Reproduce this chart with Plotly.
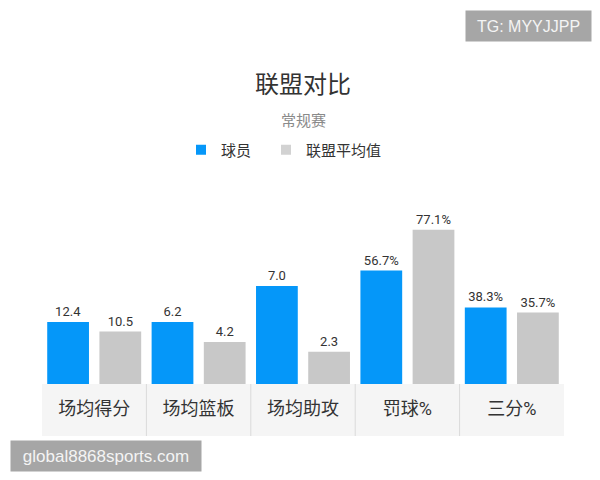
import plotly.graph_objects as go

# ---- data ----
categories = ["场均得分", "场均篮板", "场均助攻", "罚球%", "三分%"]
player = [12.4, 6.2, 7.0, 56.7, 38.3]
league = [10.5, 4.2, 2.3, 77.1, 35.7]
suffix = ["", "", "", "%", "%"]
# per-category display scale used by the original chart (bars are scaled per category)
display_scale = [5, 10, 14, 2, 2]
series_names = ["球员", "联盟平均值"]

BLUE = "#0597F9"
GRAY = "#C8C8C8"
TXT = "#333333"
CJK = "Roboto, Noto Sans CJK SC, sans-serif"

W, H = 600, 480
ML, MR, MT, MB = 42, 36, 220, 96
PH = H - MT - MB  # plot height in px
PW = W - ML - MR


def py(px_from_top):
    """convert a pixel y (from top of page) to paper coordinate"""
    return (H - MB - px_from_top) / PH


def px(px_from_left):
    return (px_from_left - ML) / PW


def labels(vals):
    return [f"{v:.1f}{s}" for v, s in zip(vals, suffix)]


fig = go.Figure()
for name, vals, color in [(series_names[0], player, BLUE), (series_names[1], league, GRAY)]:
    fig.add_trace(go.Bar(
        x=categories,
        y=[v * k for v, k in zip(vals, display_scale)],
        text=labels(vals),
        textposition="outside",
        outsidetextfont=dict(size=13, color=TXT, family=CJK),
        marker=dict(color=color, line=dict(width=0)),
        cliponaxis=False,
        showlegend=False,
        hoverinfo="skip",
        name=name,
    ))

# legend entries (square markers)
for i, (name, color) in enumerate([(series_names[0], BLUE), (series_names[1], "#D2D2D2")]):
    fig.add_trace(go.Scatter(
        x=[None], y=[None], mode="markers", name=name,
        marker=dict(symbol="square", size=10, color=color),
        legendwidth=40 if i == 0 else None,
    ))

shapes = [
    dict(type="rect", xref="paper", yref="paper", x0=0, x1=1, y0=py(436), y1=0,
         fillcolor="#F5F5F5", line=dict(width=0), layer="below"),
]
n = len(categories)
for k in range(1, n):
    shapes.append(dict(type="line", xref="paper", yref="paper", x0=k / n, x1=k / n,
                       y0=py(436), y1=0, line=dict(color="#DADADA", width=1)))

annotations = [
    dict(text="常规赛", xref="paper", yref="paper", x=0.5, y=py(121), xanchor="center",
         yanchor="middle", showarrow=False, font=dict(size=15, color="#8A8A8A", family=CJK)),
    dict(text="TG: MYYJJPP", xref="paper", yref="paper", x=px(465), y=py(10),
         xanchor="left", yanchor="top", width=125, height=30, borderpad=0,
         bgcolor="#A6A6A6", showarrow=False,
         font=dict(size=16, color="#F4F4F4", family="Liberation Sans, Arial")),
    dict(text="global8868sports.com", xref="paper", yref="paper", x=px(10), y=py(440),
         xanchor="left", yanchor="top", width=190, height=30, borderpad=0,
         bgcolor="#A6A6A6", showarrow=False,
         font=dict(size=17, color="#F4F4F4", family="Liberation Sans, Arial")),
]

fig.update_layout(
    width=W, height=H,
    margin=dict(l=ML, r=MR, t=MT, b=MB, pad=0),
    paper_bgcolor="white", plot_bgcolor="white",
    barmode="group", bargap=0.0, bargroupgap=0.2,
    title=dict(text="联盟对比", x=0.5, xref="paper", xanchor="center",
               y=1 - 85 / H, yref="container", yanchor="middle",
               font=dict(size=24, color=TXT, family=CJK)),
    legend=dict(orientation="h", x=px(181), xanchor="left", y=py(150), yanchor="middle",
                font=dict(size=15, color=TXT, family=CJK), bgcolor="rgba(0,0,0,0)"),
    xaxis=dict(showgrid=False, zeroline=False, showline=False, ticks="",
               tickfont=dict(size=18, color=TXT, family=CJK), ticklabelstandoff=12,
               fixedrange=True),
    yaxis=dict(range=[0, PH], visible=False, fixedrange=True),
    shapes=shapes,
    annotations=annotations,
    hovermode=False,
)

fig.write_html("out.html")
